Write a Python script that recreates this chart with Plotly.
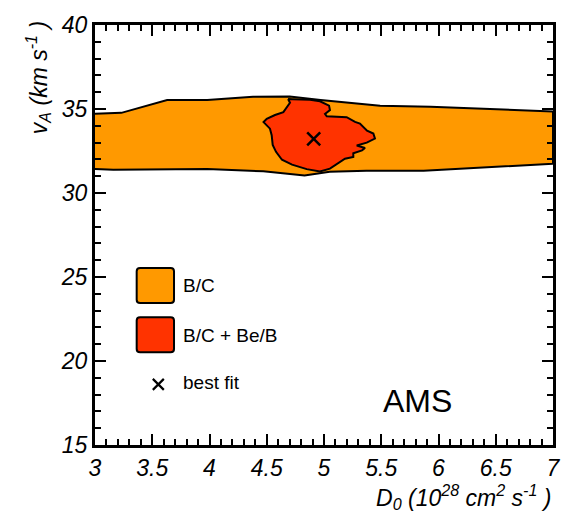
import plotly.graph_objects as go

# Allowed region from B/C alone: upper and lower edges of the band
bc_upper_d0 = [3.00, 3.23, 3.63, 3.98, 4.38, 4.70, 4.97, 5.49, 5.93, 6.25, 7.00]
bc_upper_va = [34.71, 34.77, 35.53, 35.53, 35.73, 35.74, 35.53, 35.20, 35.14, 35.04, 34.85]
bc_lower_d0 = [3.00, 3.16, 3.98, 4.47, 4.83, 5.05, 5.37, 5.87, 7.00]
bc_lower_va = [31.43, 31.39, 31.43, 31.29, 31.04, 31.26, 31.33, 31.33, 31.74]

# Allowed region from B/C + Be/B (closed contour)
bcbe_d0 = [4.686, 4.703, 4.645, 4.572, 4.500, 4.472, 4.528, 4.543, 4.552, 4.581,
           4.633, 4.721, 4.849, 4.965, 5.052, 5.114, 5.183, 5.256, 5.256, 5.332,
           5.358, 5.286, 5.373, 5.445, 5.431, 5.376, 5.314, 5.271, 5.198, 5.024,
           5.009, 5.052, 5.044, 4.965, 4.878, 4.729, 4.686]
bcbe_va = [35.59, 35.37, 34.81, 34.64, 34.42, 34.22, 33.83, 33.44, 32.86, 32.45,
           31.98, 31.69, 31.42, 31.28, 31.45, 31.72, 32.04, 32.15, 32.37, 32.54,
           32.68, 32.83, 33.00, 33.24, 33.54, 33.71, 34.13, 34.23, 34.51, 34.57,
           34.71, 34.94, 35.20, 35.46, 35.55, 35.58, 35.59]

# Best-fit point
best_d0 = [4.91]
best_va = [33.22]

x_range = [3, 7]
y_range = [15, 40]

ORANGE = "#FF9900"
RED = "#FF3300"
FONT = "Liberation Sans, Arial, Helvetica, sans-serif"

fig = go.Figure()

fig.add_trace(go.Scatter(
    x=bc_upper_d0 + bc_lower_d0[::-1],
    y=bc_upper_va + bc_lower_va[::-1],
    fill="toself", fillcolor=ORANGE, mode="lines",
    line=dict(color="black", width=2), hoverinfo="skip", showlegend=False,
))
fig.add_trace(go.Scatter(
    x=bcbe_d0, y=bcbe_va,
    fill="toself", fillcolor=RED, mode="lines",
    line=dict(color="black", width=2), hoverinfo="skip", showlegend=False,
))
fig.add_trace(go.Scatter(
    x=best_d0, y=best_va, mode="markers",
    marker=dict(symbol="x-thin", size=13, line=dict(color="black", width=2.5)),
    showlegend=False,
))
# Empty trace so the top/right tick axes are drawn
fig.add_trace(go.Scatter(x=[], y=[], xaxis="x2", yaxis="y2",
                         showlegend=False, hoverinfo="skip"))

# Hand-drawn key inside the axes
def rounded_box(x0, y0, x1, y1, r=0.03):
    ry = r * (114.5 / 17.08)
    return (f"M {x0 + r},{y0} L {x1 - r},{y0} Q {x1},{y0} {x1},{y0 + ry} "
            f"L {x1},{y1 - ry} Q {x1},{y1} {x1 - r},{y1} L {x0 + r},{y1} "
            f"Q {x0},{y1} {x0},{y1 - ry} L {x0},{y0 + ry} Q {x0},{y0} {x0 + r},{y0} Z")

key_x0, key_x1 = 3.364, 3.690
fig.add_shape(type="path", path=rounded_box(key_x0, 23.45, key_x1, 25.54),
              fillcolor=ORANGE, line=dict(color="black", width=2), layer="above")
fig.add_shape(type="path", path=rounded_box(key_x0, 20.52, key_x1, 22.61),
              fillcolor=RED, line=dict(color="black", width=2), layer="above")
fig.add_trace(go.Scatter(
    x=[3.553], y=[18.61], mode="markers",
    marker=dict(symbol="x-thin", size=11, line=dict(color="black", width=2.2)),
    showlegend=False, hoverinfo="skip",
))

key_font = dict(family=FONT, size=19, color="black")
for label, yv in [("B/C", 24.48), ("B/C + Be/B", 21.50), ("best fit", 18.70)]:
    fig.add_annotation(x=3.75, y=yv, text=label, showarrow=False,
                       xanchor="left", yanchor="middle", font=key_font)

fig.add_annotation(x=5.817, y=17.59, text="AMS", showarrow=False,
                   xanchor="center", yanchor="middle",
                   font=dict(family=FONT, size=32, color="black"))

# Axis titles
title_font = dict(family=FONT, size=23, color="black", style="italic")
fig.add_annotation(
    xref="paper", yref="paper", x=1.0, y=-0.124,
    text="D<sub>0</sub> (10<sup>28</sup> cm<sup>2</sup> s<sup>-1</sup> )",
    showarrow=False, xanchor="right", yanchor="middle", font=title_font,
)
fig.add_annotation(
    xref="paper", yref="paper", x=-0.1255, y=1.014,
    text="v<sub>A</sub> (km s<sup>-1</sup> )", textangle=-90,
    showarrow=False, xanchor="center", yanchor="top", font=title_font,
)

tick_font = dict(family=FONT, size=23, color="black", style="italic")
tick_style = dict(ticks="inside", ticklen=11, tickwidth=2, tickcolor="black",
                  showgrid=False, zeroline=False)
x_minor = dict(dtick=0.1, ticks="inside", ticklen=6, tickwidth=2,
               tickcolor="black", showgrid=False)
y_minor = dict(dtick=1, ticks="inside", ticklen=6, tickwidth=2,
               tickcolor="black", showgrid=False)

fig.update_layout(
    width=576, height=513,
    margin=dict(l=95, r=23, t=18, b=68),
    paper_bgcolor="white", plot_bgcolor="white",
    font=dict(family=FONT, color="black"),
    showlegend=False,
    xaxis=dict(range=x_range, dtick=0.5, tick0=3, minor=x_minor,
               showline=True, linecolor="black", linewidth=3, mirror=True,
               tickfont=tick_font, **tick_style),
    yaxis=dict(range=y_range, dtick=5, tick0=15, minor=y_minor,
               showline=True, linecolor="black", linewidth=3, mirror=True,
               tickfont=tick_font, **tick_style),
    xaxis2=dict(range=x_range, dtick=0.5, tick0=3, minor=x_minor,
                overlaying="x", side="top", anchor="y",
                showline=False, showticklabels=False, **tick_style),
    yaxis2=dict(range=y_range, dtick=5, tick0=15, minor=y_minor,
                overlaying="y", side="right", anchor="x",
                showline=False, showticklabels=False, **tick_style),
)

fig.write_html("out.html")
